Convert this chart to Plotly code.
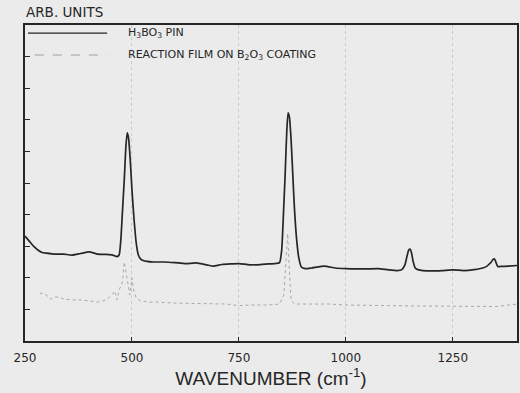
import plotly.graph_objects as go

# H3BO3 pin spectrum (solid)
pin_x = [250, 260, 270, 280, 290, 300, 320, 340, 360, 380, 400, 420, 440, 455, 465, 470,
         474, 478, 482, 486, 489, 492, 496, 500, 505, 510, 515, 520, 526, 535, 550, 575,
         600, 625, 650, 675, 690, 710, 730, 750, 775, 800, 820, 835, 845, 850, 854, 858,
         862, 865, 868, 872, 876, 880, 885, 890, 896, 905, 920, 950, 975, 1000, 1025, 1050,
         1075, 1100, 1120, 1130, 1138, 1143, 1147, 1150, 1153, 1157, 1162, 1170, 1180, 1200,
         1225, 1250, 1275, 1300, 1320, 1330, 1336, 1340, 1344, 1347, 1350, 1355, 1365, 1380, 1400]
pin_y = [3.32, 3.16, 3.00, 2.88, 2.80, 2.78, 2.75, 2.75, 2.72, 2.77, 2.82, 2.75, 2.74, 2.72, 2.67, 2.72,
         3.20, 4.15, 5.10, 6.20, 6.59, 6.43, 5.73, 4.78, 3.83, 3.10, 2.72, 2.60, 2.55, 2.52, 2.50, 2.50,
         2.48, 2.45, 2.47, 2.41, 2.37, 2.42, 2.44, 2.45, 2.41, 2.42, 2.44, 2.45, 2.48, 2.88, 3.99, 5.25,
         6.68, 7.22, 7.09, 6.36, 5.25, 4.15, 3.20, 2.63, 2.34, 2.29, 2.31, 2.37, 2.31, 2.29, 2.28, 2.28,
         2.29, 2.25, 2.23, 2.25, 2.41, 2.69, 2.88, 2.91, 2.82, 2.53, 2.31, 2.25, 2.23, 2.22,
         2.23, 2.25, 2.23, 2.26, 2.31, 2.37, 2.45, 2.50, 2.58, 2.60, 2.52, 2.36, 2.36, 2.37, 2.39]

# Reaction film on B2O3 coating (dotted)
film_x = [285, 290, 300, 305, 310, 320, 330, 340, 360, 380, 400, 420, 440, 450, 460, 465, 470,
          478, 482, 486, 490, 495, 500, 504, 510, 520, 540, 560, 600, 640, 680, 720, 750, 780,
          820, 845, 855, 860, 864, 868, 872, 880, 920, 960, 1000, 1050, 1100, 1150, 1200, 1250,
          1300, 1350, 1400]
film_y = [1.49, 1.52, 1.46, 1.36, 1.33, 1.39, 1.39, 1.33, 1.30, 1.30, 1.27, 1.23, 1.30, 1.42, 1.58, 1.30, 1.61,
          1.87, 2.50, 2.18, 1.77, 1.46, 2.00, 1.61, 1.36, 1.27, 1.23, 1.23, 1.20, 1.19, 1.17, 1.17, 1.12, 1.14,
          1.14, 1.17, 1.46, 2.40, 3.40, 2.20, 1.30, 1.17, 1.17, 1.17, 1.14, 1.14, 1.12, 1.11, 1.11, 1.11,
          1.11, 1.09, 1.17]

x_ticks = [250, 500, 750, 1000, 1250]
y_ticks = list(range(0, 11))
legend_labels = ["H<sub>3</sub>BO<sub>3</sub> PIN",
                 "REACTION FILM ON B<sub>2</sub>O<sub>3</sub> COATING"]

BG = "#ebebeb"
INK = "#262626"
FONT = "DejaVu Sans"

fig = go.Figure()
fig.add_trace(go.Scatter(x=pin_x, y=pin_y, mode="lines",
                         line=dict(color=INK, width=1.7, shape="spline", smoothing=0.5),
                         showlegend=False))
fig.add_trace(go.Scatter(x=film_x, y=film_y, mode="lines",
                         line=dict(color="#a8a8a8", width=1, dash="dot"),
                         showlegend=False))

# legend drawn by hand (long sample lines as in the original)
fig.add_shape(type="line", xref="paper", yref="paper", x0=0.006, x1=0.167, y0=0.974, y1=0.974,
              line=dict(color=INK, width=1.2))
fig.add_shape(type="line", xref="paper", yref="paper", x0=0.02, x1=0.167, y0=0.905, y1=0.905,
              line=dict(color="#a0a0a0", width=1, dash="dash"))
fig.add_annotation(xref="paper", yref="paper", x=0.205, y=0.974, text=legend_labels[0],
                   showarrow=False, xanchor="left", yanchor="middle",
                   font=dict(family=FONT, size=11, color=INK))
fig.add_annotation(xref="paper", yref="paper", x=0.205, y=0.905, text=legend_labels[1],
                   showarrow=False, xanchor="left", yanchor="middle",
                   font=dict(family=FONT, size=11, color=INK))
fig.add_annotation(xref="paper", yref="paper", x=-0.003, y=1.0, yshift=13, text="ARB. UNITS",
                   showarrow=False, xanchor="left", yanchor="middle",
                   font=dict(family=FONT, size=13.5, color=INK))

fig.update_layout(
    template="none",
    width=520, height=393,
    margin=dict(l=25, r=3, t=25, b=52, autoexpand=False),
    paper_bgcolor=BG, plot_bgcolor=BG,
    font=dict(family=FONT, color=INK),
    xaxis=dict(range=[250, 1400], tickvals=x_ticks, ticktext=[str(v) for v in x_ticks],
               automargin=False,
               ticks="inside", ticklen=4, tickcolor=INK, ticklabelstandoff=5,
               showline=True, mirror=True, linecolor=INK, linewidth=1.5,
               showgrid=True, gridcolor="#cacaca", griddash="dot", gridwidth=1,
               zeroline=False, tickfont=dict(size=12, family=FONT),
               title=dict(text="WAVENUMBER (cm<sup>-1</sup>)",
                          font=dict(size=19, family="Liberation Sans"), standoff=8)),
    yaxis=dict(range=[0, 10], tickvals=y_ticks, showticklabels=False, automargin=False,
               ticks="inside", ticklen=5, tickcolor=INK,
               showline=True, mirror=True, linecolor=INK, linewidth=1.5,
               showgrid=False, zeroline=False),
)

fig.write_html("out.html", config={"displayModeBar": False},
               post_script="document.body.style.margin='0';document.body.style.overflow='hidden';"
                           "document.body.style.background='#ebebeb';")
